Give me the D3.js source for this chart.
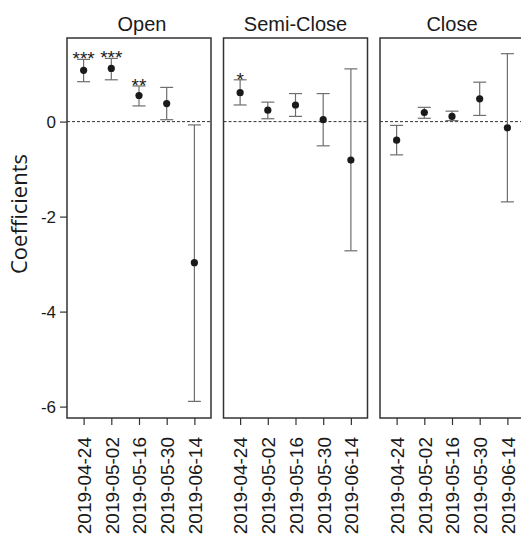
<!DOCTYPE html>
<html>
<head>
<meta charset="utf-8">
<script src="https://d3js.org/d3.v7.min.js"></script>
<style>
  body { margin: 0; background: #fff; }
  text { font-family: "Liberation Sans", Arial, sans-serif; fill: #1a1a1a; }
</style>
</head>
<body>
<div id="chart"></div>
<script>
// data
const dates = ["2019-04-24", "2019-05-02", "2019-05-16", "2019-05-30", "2019-06-14"];
const panels = ["Open", "Semi-Close", "Close"];

const estOpen = [1.08, 1.12, 0.55, 0.38, -2.97];
const loOpen  = [0.84, 0.88, 0.33, 0.04, -5.89];
const hiOpen  = [1.31, 1.33, 0.75, 0.72, -0.07];
const starsOpen = ["***", "***", "**", "", ""];

const estSemi = [0.61, 0.24, 0.35, 0.04, -0.81];
const loSemi  = [0.35, 0.06, 0.11, -0.51, -2.72];
const hiSemi  = [0.88, 0.41, 0.59, 0.59, 1.11];
const starsSemi = ["*", "", "", "", ""];

const estClose = [-0.39, 0.19, 0.11, 0.48, -0.13];
const loClose  = [-0.70, 0.07, 0.02, 0.13, -1.69];
const hiClose  = [-0.08, 0.30, 0.22, 0.83, 1.43];
const starsClose = ["", "", "", "", ""];

const yTicks = [0, -2, -4, -6];

const series = [
  {est: estOpen, lo: loOpen, hi: hiOpen, stars: starsOpen},
  {est: estSemi, lo: loSemi, hi: hiSemi, stars: starsSemi},
  {est: estClose, lo: loClose, hi: hiClose, stars: starsClose}
];

const W = 521, H = 536;
const margin = {top: 38, left: 67, bottom: 118};
const panelW = 144, step = 156.5;
const height = H - margin.top - margin.bottom;

const svg = d3.select("#chart")
    .append("svg")
    .attr("width", W)
    .attr("height", H);

const y = d3.scaleLinear()
    .domain([-6.24, 1.76])
    .range([height, 0]);

const x = d3.scalePoint()
    .domain(dates)
    .range([0, panelW])
    .padding(0.6);

panels.forEach(function(name, i) {
    const s = series[i];
    const rows = dates.map(function(d, j) {
        return {date: d, est: s.est[j], lo: s.lo[j], hi: s.hi[j], star: s.stars[j]};
    });

    const g = svg.append("g")
        .attr("transform", `translate(${margin.left + i * step},${margin.top})`);

    // title
    g.append("text")
        .attr("x", panelW / 2 + (i === 0 ? 3 : 0))
        .attr("y", -7)
        .attr("text-anchor", "middle")
        .style("font-size", "20px")
        .text(name);

    // zero line
    g.append("line")
        .attr("x1", 0).attr("x2", panelW)
        .attr("y1", y(0)).attr("y2", y(0))
        .attr("stroke", "#333")
        .attr("stroke-width", 1)
        .attr("stroke-dasharray", "3,2");

    // error bars
    const bars = g.selectAll(".bar").data(rows).join("g").attr("class", "bar");
    bars.append("line")
        .attr("x1", d => x(d.date)).attr("x2", d => x(d.date))
        .attr("y1", d => y(d.lo)).attr("y2", d => y(d.hi))
        .attr("stroke", "#6e6e6e").attr("stroke-width", 1.2);
    bars.append("line")
        .attr("x1", d => x(d.date) - 6.5).attr("x2", d => x(d.date) + 6.5)
        .attr("y1", d => y(d.lo)).attr("y2", d => y(d.lo))
        .attr("stroke", "#6e6e6e").attr("stroke-width", 1.2);
    bars.append("line")
        .attr("x1", d => x(d.date) - 6.5).attr("x2", d => x(d.date) + 6.5)
        .attr("y1", d => y(d.hi)).attr("y2", d => y(d.hi))
        .attr("stroke", "#6e6e6e").attr("stroke-width", 1.2);

    bars.append("circle")
        .attr("cx", d => x(d.date))
        .attr("cy", d => y(d.est))
        .attr("r", 3.6)
        .attr("fill", "#1a1a1a");

    bars.append("text")
        .attr("x", d => x(d.date))
        .attr("y", d => y(d.hi) + 6)
        .attr("text-anchor", "middle")
        .style("font-size", "19px")
        .text(d => d.star);

    // bottom axis
    const xa = g.append("g")
        .attr("transform", `translate(0,${height})`)
        .call(d3.axisBottom(x).tickSizeInner(7).tickSizeOuter(0));
    xa.select(".domain").remove();
    xa.selectAll("line").attr("stroke", "#333").attr("stroke-width", 1.2);
    xa.selectAll("text")
        .attr("transform", "rotate(-90)")
        .attr("x", -19)
        .attr("y", 0)
        .attr("dy", "0.36em")
        .attr("text-anchor", "end")
        .style("font-size", "19px")
        .style("font-family", "'Liberation Sans', Arial, sans-serif")
        .attr("fill", "#1a1a1a");

    if (i === 0) {
        const ya = g.append("g")
            .call(d3.axisLeft(y).tickValues(yTicks).tickFormat(d => String(d))
                .tickSizeInner(7).tickSizeOuter(0));
        ya.select(".domain").remove();
        ya.selectAll("line").attr("stroke", "#333").attr("stroke-width", 1.2);
        ya.selectAll("text")
            .attr("x", -11)
            .style("font-size", "17px")
            .style("font-family", "'Liberation Sans', Arial, sans-serif")
            .attr("fill", "#1a1a1a");
    }

    // panel frame
    g.append("rect")
        .attr("width", panelW)
        .attr("height", height)
        .attr("fill", "none")
        .attr("stroke", "#333")
        .attr("stroke-width", 1.5);
});

svg.append("text")
    .attr("transform", "translate(27,214) rotate(-90)")
    .attr("text-anchor", "middle")
    .style("font-size", "22px")
    .style("font-family", "'Open Sans', sans-serif")
    .text("Coefficients");
</script>
</body>
</html>
